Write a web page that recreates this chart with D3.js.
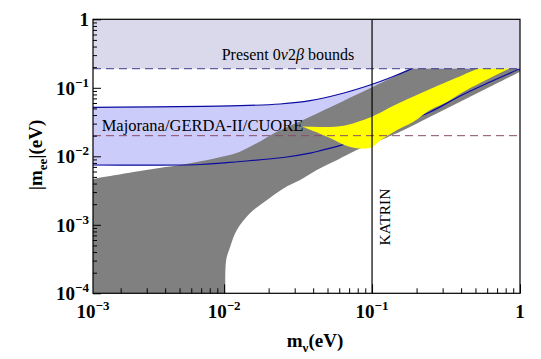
<!DOCTYPE html>
<html>
<head>
<meta charset="utf-8">
<script src="https://cdn.jsdelivr.net/npm/d3@7"></script>
<style>
  body { margin: 0; background: #fff; }
</style>
</head>
<body>
<svg id="chart" width="541" height="359"></svg>
<script>
// |m_ee| versus m_nu, both in eV

// grey allowed band: upper edge
var greyUpperM  = [0.0013, 0.0027, 0.0059, 0.0098, 0.0128, 0.0166, 0.0227, 0.0381, 0.1016, 0.181, 1];
var greyUpperEE = [0.00467, 0.0061, 0.0079, 0.0099, 0.0117, 0.0155, 0.0229, 0.0379, 0.1038, 0.186, 1];
// grey band: lower edge (the white hole on the bottom right)
var greyLowerM  = [0.0102, 0.01033, 0.011, 0.0122, 0.015, 0.0195, 0.0252, 0.0327, 0.0423, 0.0548, 0.071, 0.0788, 0.1545, 0.247, 0.394, 0.627, 1];
var greyLowerEE = [0.0001, 0.000306, 0.00048, 0.00084, 0.00149, 0.0023, 0.0034, 0.0045, 0.0063, 0.0083, 0.0111, 0.0124, 0.0229, 0.0379, 0.0627, 0.1038, 0.172];

// Majorana/GERDA-II/CUORE band (blue curves)
var blueUpperM  = [0.0013, 0.0128, 0.0239, 0.0381, 0.0608, 0.097, 0.1364, 0.181, 0.247];
var blueUpperEE = [0.0519, 0.0548, 0.058, 0.0648, 0.0812, 0.11, 0.144, 0.186, 0.255];
var blueLowerM  = [0.0013, 0.0069, 0.0128, 0.0251, 0.0381, 0.0467, 0.0589, 0.097, 0.1545, 0.247, 0.394, 0.627, 1];
var blueLowerEE = [0.00746, 0.00759, 0.0084, 0.0096, 0.0111, 0.0124, 0.0141, 0.0198, 0.0296, 0.0443, 0.0759, 0.1215, 0.19];

// yellow region
var yelUpperM  = [0.0337, 0.052, 0.0658, 0.083, 0.097, 0.1476, 0.247, 0.412, 0.505, 0.678];
var yelUpperEE = [0.0272, 0.0268, 0.0282, 0.0328, 0.0368, 0.058, 0.096, 0.154, 0.186, 0.246];
var yelLowerM  = [0.0337, 0.052, 0.0678, 0.083, 0.0984, 0.115, 0.1476, 0.189, 0.247, 0.321, 0.412, 0.537, 0.667, 0.83, 1];
var yelLowerEE = [0.0272, 0.0185, 0.0141, 0.013, 0.0134, 0.0173, 0.0242, 0.0317, 0.0474, 0.062, 0.0868, 0.1175, 0.149, 0.186, 0.222];

// bounds
var presentBound = 0.19;
var futureBound = 0.02;
var katrinM = 0.1;

// axes (the frame starts a little above 1e-3, label sits at the corner as in the figure)
var xDomain = [0.0013, 1];
var yDomain = [1e-4, 1];
var xTickVals = [0.0013, 0.01, 0.1, 1];
var xTickLabels = [["10", "\u22123"], ["10", "\u22122"], ["10", "\u22121"], ["1", ""]];
var yTickVals = [1e-4, 1e-3, 1e-2, 1e-1, 1];
var yTickLabels = [["10", "\u22124"], ["10", "\u22123"], ["10", "\u22122"], ["10", "\u22121"], ["1", ""]];

var serif = "'Liberation Serif', 'DejaVu Serif', serif";

var margin = { top: 19.3, left: 93, right: 21, bottom: 65.7 };
var W = 541, H = 359;
var w = W - margin.left - margin.right;
var h = H - margin.top - margin.bottom;

var svg = d3.select("#chart").style("font-family", serif);
var g = svg.append("g").attr("transform", "translate(" + margin.left + "," + margin.top + ")");

var x = d3.scaleLog().domain(xDomain).range([0, w]);
var y = d3.scaleLog().domain(yDomain).range([h, 0]);

g.append("clipPath").attr("id", "clip")
  .append("rect").attr("width", w).attr("height", h);
var plot = g.append("g").attr("clip-path", "url(#clip)");

function pts(ms, ees) {
  return ms.map(function (m, i) { return [m, ees[i]]; });
}
var curve = d3.line()
  .x(function (d) { return x(d[0]); })
  .y(function (d) { return y(d[1]); })
  .curve(d3.curveCatmullRom);
function back(p) {
  // same curve drawn backwards, continuing the current path
  return curve(p.slice().reverse()).replace(/^M/, "L");
}

// light blue band
var bu = pts(blueUpperM, blueUpperEE);
var bl = pts(blueLowerM, blueLowerEE);
plot.append("path")
  .attr("d", curve(bu) + "L" + x(1) + "," + y(1) + back(bl) + "Z")
  .attr("fill", "#ccccfa");

// grey band
var gu = pts(greyUpperM, greyUpperEE);
var gl = pts(greyLowerM, greyLowerEE);
plot.append("path")
  .attr("d", curve(gu) + back(gl) + "L" + x(xDomain[0]) + "," + y(yDomain[0]) + "Z")
  .attr("fill", "#808080");

// blue boundary curves
[bu, bl].forEach(function (p) {
  plot.append("path").attr("d", curve(p))
    .attr("fill", "none").attr("stroke", "#0a0aa0").attr("stroke-width", 1.2);
});

// yellow region
plot.append("path")
  .attr("d", curve(pts(yelUpperM, yelUpperEE)) + back(pts(yelLowerM, yelLowerEE)) + "Z")
  .attr("fill", "#ffff00");

// present bounds band
plot.append("rect")
  .attr("x", 0).attr("y", y(1))
  .attr("width", w).attr("height", y(presentBound) - y(1))
  .attr("fill", "#d9d9eb");

// dashed bounds
plot.append("line")
  .attr("x1", 0).attr("x2", w)
  .attr("y1", y(presentBound)).attr("y2", y(presentBound))
  .attr("stroke", "#3c3c8c").attr("stroke-dasharray", "8,5");
plot.append("line")
  .attr("x1", 0).attr("x2", w)
  .attr("y1", y(futureBound)).attr("y2", y(futureBound))
  .attr("stroke", "#8a4a6a").attr("stroke-dasharray", "8,5");

// KATRIN line
plot.append("line")
  .attr("x1", x(katrinM)).attr("x2", x(katrinM))
  .attr("y1", 0).attr("y2", h)
  .attr("stroke", "#000").attr("stroke-width", 1.2);

// labels inside the plot
var pt = g.append("text")
  .attr("x", x(0.027)).attr("y", y(presentBound) - 9)
  .attr("text-anchor", "middle")
  .style("font-family", serif).style("font-size", "16px");
pt.append("tspan").text("Present 0");
pt.append("tspan").style("font-style", "italic").text("\u03bd");
pt.append("tspan").text("2");
pt.append("tspan").style("font-style", "italic").text("\u03b2");
pt.append("tspan").text(" bounds");

g.append("text")
  .attr("x", 8.7).attr("y", y(0.0232))
  .style("font-family", serif).style("font-size", "16.5px")
  .text("Majorana/GERDA-II/CUORE");

g.append("text")
  .attr("transform", "translate(" + (x(katrinM) + 18) + "," + y(0.0013) + ") rotate(-90)")
  .attr("text-anchor", "middle")
  .style("font-family", serif).style("font-size", "15.5px")
  .text("KATRIN");

// frame
g.append("rect")
  .attr("width", w).attr("height", h)
  .attr("fill", "none").attr("stroke", "#000").attr("stroke-width", 1.2);

// ticks, inward
var xMinor = [], yMinor = [];
[0.001, 0.01, 0.1].forEach(function (d) {
  for (var k = 2; k < 10; k++) if (k * d >= xDomain[0]) xMinor.push(k * d);
});
[1e-4, 1e-3, 1e-2, 1e-1].forEach(function (d) {
  for (var k = 2; k < 10; k++) yMinor.push(k * d);
});

function tidy(sel) {
  sel.select(".domain").remove();
  sel.selectAll("line").attr("stroke", "#000");
}
g.append("g").attr("transform", "translate(0," + h + ")")
  .call(d3.axisBottom(x).tickValues(xMinor).tickSize(-5).tickFormat("")).call(tidy);
g.append("g").attr("transform", "translate(0," + h + ")")
  .call(d3.axisBottom(x).tickValues(xTickVals.slice(1)).tickSize(-9).tickFormat("")).call(tidy);
g.append("g")
  .call(d3.axisLeft(y).tickValues(yMinor).tickSize(-4).tickFormat("")).call(tidy);
g.append("g")
  .call(d3.axisLeft(y).tickValues(yTickVals).tickSize(-8).tickFormat("")).call(tidy);

// tick labels with superscripts
function tickLabel(sel, lab) {
  sel.append("tspan").text(lab[0]);
  if (lab[1]) sel.append("tspan").attr("dy", -8).style("font-size", "13px").text(lab[1]);
}
xTickVals.forEach(function (v, i) {
  var t = g.append("text")
    .attr("x", x(v)).attr("y", h + 25)
    .attr("text-anchor", "middle")
    .style("font-family", serif).style("font-size", "19px").style("font-weight", "bold");
  tickLabel(t, xTickLabels[i]);
});
yTickVals.forEach(function (v, i) {
  var t = g.append("text")
    .attr("x", -4).attr("y", y(v) + 7)
    .attr("text-anchor", "end")
    .style("font-family", serif).style("font-size", "19px").style("font-weight", "bold");
  tickLabel(t, yTickLabels[i]);
});

// axis titles
var xt = svg.append("text")
  .attr("x", 315).attr("y", 347)
  .attr("text-anchor", "middle")
  .style("font-family", serif).style("font-size", "19px").style("font-weight", "bold");
xt.append("tspan").text("m");
xt.append("tspan").attr("dy", 5).style("font-size", "13px").text("\u03bd");
xt.append("tspan").attr("dy", -5).text("(eV)");

var yt = svg.append("text")
  .attr("transform", "translate(42,155) rotate(-90)")
  .attr("text-anchor", "middle")
  .style("font-family", serif).style("font-size", "19px").style("font-weight", "bold");
yt.append("tspan").text("|m");
yt.append("tspan").attr("dy", 5).style("font-size", "13px").text("ee");
yt.append("tspan").attr("dy", -5).text("|(eV)");
</script>
</body>
</html>
